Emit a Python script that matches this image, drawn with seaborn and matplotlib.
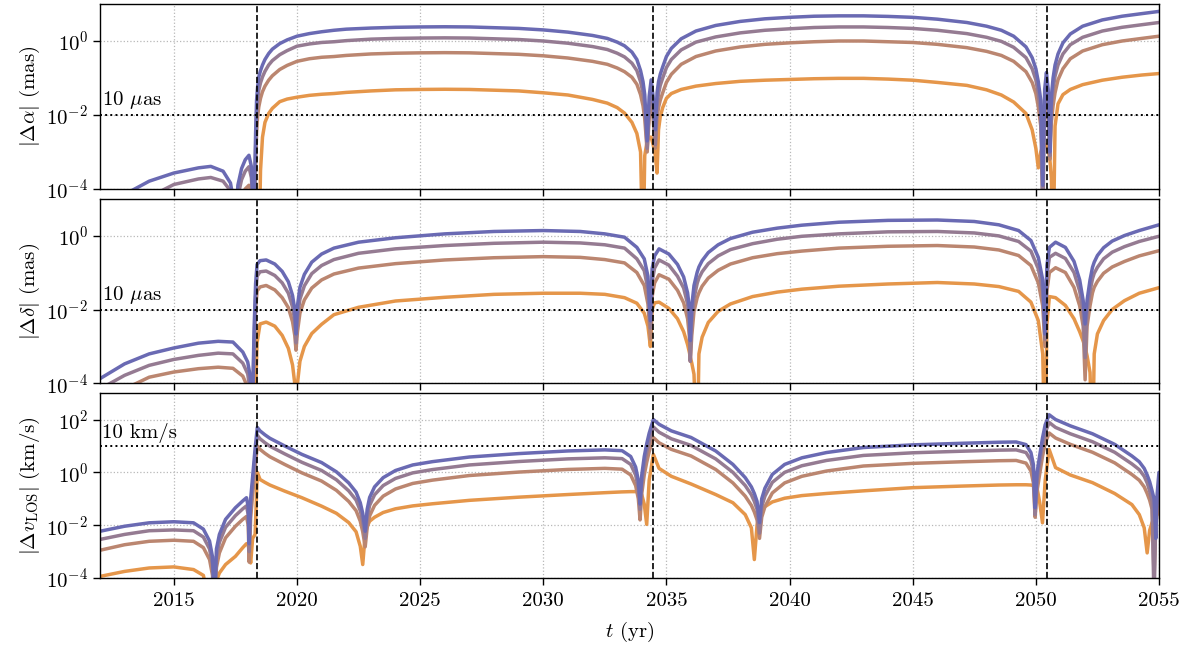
import matplotlib
matplotlib.use("Agg")
import matplotlib.pyplot as plt
import matplotlib.ticker as mticker
import seaborn as sns
import numpy as np
import pandas as pd

# epochs of the three events (dashed lines)
t_events = [2018.36, 2034.44, 2050.46]
series = ["s1", "s2", "s3", "s4"]
colors = ["#6a6ab3", "#957b92", "#bb8670", "#e5964a"]

# all curve values are log10 readings off the log axes (-6 / -5 = below the frame)

# ---- |Delta alpha| (mas) ----
t_a = [2012, 2013, 2014, 2015, 2016, 2016.5, 2017, 2017.3, 2017.42, 2017.5,
       2017.6, 2017.75, 2017.9, 2018.05, 2018.15, 2018.25, 2018.32, 2018.36, 2018.4, 2018.45,
       2018.52, 2018.6, 2018.7, 2018.85, 2019.0, 2019.3, 2019.6, 2020, 2020.5, 2021,
       2021.5, 2022, 2023, 2024, 2025, 2026, 2027, 2028, 2029, 2030,
       2031, 2032, 2032.6, 2033, 2033.3, 2033.6, 2033.8, 2033.95, 2034.05, 2034.12,
       2034.22, 2034.3, 2034.38, 2034.46, 2034.55, 2034.62, 2034.68, 2034.75, 2034.85, 2035,
       2035.2, 2035.6, 2036.2, 2037, 2038, 2039, 2040, 2041, 2042, 2043,
       2044, 2045, 2046, 2047.2, 2048, 2048.6, 2049.1, 2049.6, 2049.85, 2050.0,
       2050.1, 2050.2, 2050.28, 2050.36, 2050.43, 2050.5, 2050.57, 2050.63, 2050.7, 2050.78,
       2050.9, 2051.1, 2051.4, 2051.9, 2052.7, 2053.5, 2054.3, 2055]
a1 = [-4.5, -4.15, -3.79, -3.57, -3.43, -3.39, -3.52, -3.84, -4.3, -5,
      -3.9, -3.45, -3.21, -3.09, -3.4, -5, -2.5, -1.6, -1.25, -0.97,
      -0.8, -0.65, -0.5, -0.34, -0.22, -0.07, 0.03, 0.13, 0.2, 0.25,
      0.29, 0.32, 0.35, 0.37, 0.38, 0.385, 0.38, 0.36, 0.34, 0.30,
      0.24, 0.15, 0.07, -0.03, -0.13, -0.30, -0.5, -0.8, -1.1, -1.45,
      -2.7, -1.5, -1.05, -1.5, -2.4, -1.4, -1.1, -0.9, -0.7, -0.42,
      -0.2, 0.06, 0.27, 0.42, 0.53, 0.60, 0.64, 0.67, 0.68, 0.68,
      0.665, 0.64, 0.59, 0.50, 0.40, 0.29, 0.13, -0.16, -0.45, -0.75,
      -1.1, -1.6, -3.9, -1.3, -0.85, -1.3, -3.0, -1.5, -1.0, -0.65,
      -0.35, -0.05, 0.19, 0.40, 0.57, 0.67, 0.74, 0.80]
a2 = [-5, -4.7, -4.22, -3.88, -3.73, -3.69, -3.79, -4.05, -4.5, -5,
      -4.2, -3.75, -3.52, -3.4, -3.7, -5, -2.9, -1.96, -1.6, -1.33,
      -1.13, -0.97, -0.82, -0.65, -0.53, -0.37, -0.26, -0.14, -0.08, -0.04,
      -0.02, 0.01, 0.05, 0.07, 0.08, 0.085, 0.08, 0.06, 0.04, 0.0,
      -0.06, -0.15, -0.23, -0.33, -0.43, -0.6, -0.8, -1.1, -1.4, -1.75,
      -2.9, -1.8, -1.32, -1.8, -2.8, -1.75, -1.42, -1.2, -1.0, -0.72,
      -0.5, -0.24, -0.03, 0.11, 0.22, 0.29, 0.33, 0.365, 0.38, 0.38,
      0.365, 0.34, 0.29, 0.20, 0.10, -0.01, -0.17, -0.45, -0.75, -1.05,
      -1.42, -1.95, -5, -1.6, -1.1, -1.6, -3.1, -1.8, -1.3, -0.95,
      -0.65, -0.35, -0.1, 0.1, 0.27, 0.37, 0.44, 0.50]
a3 = [-5, -5, -4.7, -4.4, -4.22, -4.15, -4.22, -4.5, -4.8, -5,
      -4.6, -4.2, -4.0, -3.9, -4.1, -5, -3.4, -2.49, -2.05, -1.78,
      -1.55, -1.37, -1.22, -1.06, -0.94, -0.77, -0.66, -0.55, -0.48, -0.44,
      -0.42, -0.39, -0.35, -0.33, -0.32, -0.315, -0.32, -0.34, -0.36, -0.40,
      -0.46, -0.55, -0.63, -0.73, -0.83, -0.98, -1.17, -1.45, -1.75, -2.1,
      -3.0, -2.1, -1.6, -2.1, -2.9, -2.1, -1.8, -1.6, -1.4, -1.12,
      -0.9, -0.63, -0.42, -0.27, -0.16, -0.09, -0.05, -0.02, 0.0, 0.0,
      -0.02, -0.04, -0.09, -0.18, -0.28, -0.39, -0.55, -0.83, -1.12, -1.42,
      -1.78, -2.3, -3.3, -2.0, -1.5, -2.0, -3.2, -2.2, -1.75, -1.4,
      -1.05, -0.75, -0.48, -0.27, -0.1, 0.0, 0.07, 0.13]
a4 = [-6, -6, -6, -6, -6, -6, -6, -6, -6, -6,
      -6, -6, -6, -6, -6, -6, -6, -6, -6, -6,
      -3.5, -2.6, -2.2, -1.96, -1.82, -1.64, -1.57, -1.52, -1.47, -1.44,
      -1.42, -1.39, -1.35, -1.32, -1.31, -1.305, -1.31, -1.33, -1.35, -1.40,
      -1.46, -1.58, -1.68, -1.8, -1.95, -2.2, -2.5, -3.0, -6, -3.1,
      -2.7, -2.6, -2.6, -2.8, -3.1, -3.57, -2.4, -2.05, -1.8, -1.55,
      -1.42, -1.31, -1.22, -1.15, -1.09, -1.06, -1.04, -1.02, -1.01, -1.01,
      -1.03, -1.06, -1.12, -1.2, -1.32, -1.46, -1.65, -1.96, -2.4, -2.9,
      -3.43, -3.0, -2.85, -2.8, -2.8, -2.95, -3.2, -3.7, -6, -2.3,
      -1.7, -1.45, -1.31, -1.18, -1.06, -0.98, -0.92, -0.88]

# ---- |Delta delta| (mas) ----
t_d = [2012, 2013, 2014, 2015, 2016, 2016.8, 2017.4, 2017.8, 2018.0, 2018.1,
       2018.18, 2018.26, 2018.32, 2018.38, 2018.5, 2018.75, 2019.1, 2019.4, 2019.65, 2019.82,
       2019.91, 2019.96, 2020.02, 2020.12, 2020.3, 2020.6, 2021, 2021.5, 2022.5, 2024,
       2026, 2028, 2030, 2031.5, 2032.5, 2033.3, 2033.8, 2034.1, 2034.25, 2034.35,
       2034.42, 2034.52, 2034.7, 2035.1, 2035.45, 2035.7, 2035.86, 2035.93, 2035.97, 2036.03,
       2036.12, 2036.25, 2036.32, 2036.45, 2036.7, 2037.1, 2037.6, 2038.5, 2039.5, 2040.5,
       2042, 2044, 2046, 2047.5, 2048.5, 2049.3, 2049.8, 2050.1, 2050.28, 2050.37,
       2050.45, 2050.55, 2050.8, 2051.2, 2051.55, 2051.78, 2051.92, 2052.0, 2052.08, 2052.2,
       2052.3, 2052.37, 2052.5, 2052.75, 2053.1, 2053.6, 2054.2, 2055]
d1 = [-3.87, -3.47, -3.20, -3.04, -2.91, -2.86, -2.88, -3.15, -3.42, -3.8,
      -5, -2.5, -1.3, -0.78, -0.68, -0.66, -0.77, -0.97, -1.25, -1.62,
      -2.0, -2.66, -1.9, -1.4, -1.05, -0.72, -0.50, -0.34, -0.18, -0.06,
      0.045, 0.11, 0.135, 0.11, 0.045, -0.045, -0.32, -0.63, -1.1, -2.3,
      -0.9, -0.55, -0.36, -0.5, -0.78, -1.12, -1.55, -1.95, -2.84, -1.9,
      -1.35, -0.99, -0.85, -0.68, -0.46, -0.25, -0.08, 0.09, 0.2, 0.28,
      0.36, 0.41, 0.42, 0.38, 0.29, 0.135, -0.135, -0.59, -1.2, -2.66,
      -0.8, -0.32, -0.18, -0.32, -0.7, -1.2, -1.75, -2.39, -1.75, -1.2,
      -0.86, -0.72, -0.54, -0.33, -0.15, 0.0, 0.135, 0.29]
d2 = [-4.15, -3.78, -3.51, -3.35, -3.24, -3.18, -3.20, -3.45, -3.74, -4.2,
      -5, -2.9, -1.65, -1.1, -0.98, -0.96, -1.08, -1.28, -1.56, -1.93,
      -2.3, -2.9, -2.2, -1.72, -1.36, -1.03, -0.81, -0.65, -0.48, -0.36,
      -0.27, -0.21, -0.18, -0.2, -0.25, -0.34, -0.63, -0.95, -1.45, -2.5,
      -1.25, -0.88, -0.66, -0.8, -1.1, -1.42, -1.85, -2.3, -3.4, -2.3,
      -1.7, -1.29, -1.15, -0.98, -0.76, -0.55, -0.38, -0.22, -0.1, -0.02,
      0.045, 0.10, 0.11, 0.07, -0.01, -0.16, -0.42, -0.9, -1.5, -2.8,
      -1.1, -0.59, -0.48, -0.62, -1.0, -1.5, -2.05, -3.3, -2.05, -1.5,
      -1.17, -1.02, -0.86, -0.63, -0.45, -0.3, -0.16, -0.02]
d3 = [-4.5, -4.15, -3.83, -3.69, -3.60, -3.56, -3.59, -3.8, -4.1, -4.5,
      -5, -3.3, -2.0, -1.5, -1.39, -1.35, -1.47, -1.68, -1.95, -2.33,
      -2.7, -3.1, -2.6, -2.1, -1.74, -1.42, -1.2, -1.04, -0.88, -0.76,
      -0.66, -0.60, -0.57, -0.59, -0.65, -0.74, -1.0, -1.35, -1.85, -2.8,
      -1.65, -1.28, -1.06, -1.18, -1.48, -1.82, -2.25, -2.7, -3.4, -2.7,
      -2.05, -1.68, -1.55, -1.37, -1.15, -0.94, -0.77, -0.6, -0.49, -0.42,
      -0.34, -0.29, -0.27, -0.31, -0.39, -0.54, -0.81, -1.28, -1.9, -3.0,
      -1.5, -1.0, -0.87, -1.0, -1.4, -1.9, -2.45, -3.9, -2.45, -1.9,
      -1.55, -1.4, -1.24, -1.02, -0.85, -0.7, -0.55, -0.41]
d4 = [-6, -6, -6, -6, -6, -6, -6, -6, -6, -6,
      -6, -6, -4.2, -2.9, -2.39, -2.34, -2.45, -2.7, -3.05, -3.5,
      -4.0, -6, -4.0, -3.4, -3.0, -2.65, -2.4, -2.14, -1.94, -1.77,
      -1.67, -1.59, -1.56, -1.56, -1.59, -1.68, -1.83, -2.1, -2.45, -3.0,
      -2.0, -1.82, -1.8, -1.97, -2.25, -2.6, -2.95, -3.15, -3.29, -3.45,
      -3.75, -6, -3.2, -2.75, -2.35, -2.05, -1.85, -1.65, -1.53, -1.45,
      -1.37, -1.31, -1.27, -1.31, -1.38, -1.51, -1.80, -2.3, -3.2, -6,
      -2.4, -1.65, -1.68, -1.89, -2.25, -2.6, -2.85, -3.02, -3.25, -3.7,
      -6, -3.2, -2.66, -2.3, -2.0, -1.76, -1.56, -1.41]

# ---- |Delta v_LOS| (km/s) ----
t_v = [2012, 2013, 2014, 2015, 2015.8, 2016.2, 2016.45, 2016.57, 2016.65, 2016.73,
       2016.85, 2017.1, 2017.5, 2017.8, 2017.95, 2018.02, 2018.06, 2018.12, 2018.2, 2018.3,
       2018.39, 2018.5, 2018.7, 2018.9, 2019.5, 2020.2, 2021, 2021.6, 2022.1, 2022.4,
       2022.57, 2022.67, 2022.77, 2022.85, 2022.95, 2023.15, 2023.5, 2024, 2024.7, 2025.5,
       2027, 2029, 2031, 2032.5, 2033.2, 2033.55, 2033.75, 2033.86, 2033.93, 2034.0,
       2034.1, 2034.2, 2034.3, 2034.47, 2034.7, 2035.2, 2036, 2037, 2037.7, 2038.2,
       2038.45, 2038.57, 2038.68, 2038.78, 2038.87, 2039.0, 2039.3, 2039.8, 2040.5, 2041.5,
       2043, 2045, 2047, 2048.5, 2049.2, 2049.6, 2049.8, 2049.9, 2049.97, 2050.05,
       2050.15, 2050.27, 2050.38, 2050.54, 2050.8, 2051.4, 2052.3, 2053.2, 2053.9, 2054.2,
       2054.4, 2054.52, 2054.62, 2054.72, 2054.8, 2054.87, 2054.92, 2054.97, 2055]
v1 = [-2.23, -2.04, -1.91, -1.87, -1.91, -2.15, -2.6, -3.2, -5, -2.9,
      -2.35, -1.78, -1.34, -1.08, -0.96, -1.3, -2.7, -1.0, -0.16, 0.9,
      1.70, 1.57, 1.42, 1.29, 1.0, 0.68, 0.37, 0.02, -0.4, -0.75,
      -1.15, -1.55, -2.23, -1.4, -0.95, -0.55, -0.2, 0.07, 0.28, 0.405,
      0.58, 0.71, 0.81, 0.85, 0.82, 0.6, 0.2, -0.3, -1.2, -0.1,
      0.6, 1.08, 1.48, 2.0, 1.82, 1.57, 1.32, 0.81, 0.3, -0.2,
      -0.55, -0.8, -1.1, -1.9, -1.0, -0.6, -0.08, 0.3, 0.55, 0.75,
      0.94, 1.04, 1.10, 1.14, 1.15, 1.05, 0.75, 0.3, -1.34, 0.0,
      0.6, 1.3, 1.8, 2.18, 2.0, 1.76, 1.46, 1.06, 0.62, 0.4,
      0.15, -0.1, -0.35, -0.7, -1.0, -2.5, -0.9, -0.3, 0.0]
v2 = [-2.54, -2.35, -2.21, -2.18, -2.21, -2.45, -2.9, -3.5, -5, -3.2,
      -2.65, -2.08, -1.64, -1.38, -1.27, -1.6, -3.0, -1.3, -0.46, 0.6,
      1.40, 1.27, 1.12, 0.99, 0.7, 0.38, 0.07, -0.28, -0.7, -1.05,
      -1.45, -1.85, -2.5, -1.7, -1.25, -0.85, -0.5, -0.23, -0.02, 0.105,
      0.28, 0.41, 0.51, 0.55, 0.52, 0.3, -0.1, -0.6, -1.4, -0.4,
      0.3, 0.78, 1.18, 1.72, 1.52, 1.27, 1.02, 0.51, 0.0, -0.5,
      -0.85, -1.1, -1.4, -2.3, -1.3, -0.9, -0.38, 0.0, 0.25, 0.45,
      0.64, 0.74, 0.80, 0.84, 0.85, 0.75, 0.45, 0.0, -1.6, -0.3,
      0.3, 1.0, 1.5, 1.89, 1.7, 1.46, 1.16, 0.76, 0.32, 0.1,
      -0.15, -0.4, -0.7, -1.1, -5, -1.6, -1.2, -0.9, -0.7]
v3 = [-2.95, -2.74, -2.61, -2.57, -2.61, -2.85, -3.3, -3.9, -5, -3.6,
      -3.05, -2.48, -2.04, -1.78, -1.67, -2.0, -3.4, -1.7, -0.86, 0.2,
      1.0, 0.87, 0.72, 0.59, 0.3, -0.02, -0.33, -0.68, -1.1, -1.45,
      -1.85, -2.25, -2.82, -2.1, -1.65, -1.25, -0.9, -0.63, -0.42, -0.295,
      -0.12, 0.01, 0.11, 0.15, 0.12, -0.1, -0.5, -1.0, -1.8, -0.8,
      -0.1, 0.38, 0.78, 1.32, 1.12, 0.87, 0.62, 0.11, -0.4, -0.9,
      -1.25, -1.5, -1.8, -2.5, -1.7, -1.3, -0.78, -0.4, -0.15, 0.05,
      0.24, 0.34, 0.40, 0.44, 0.45, 0.35, 0.05, -0.4, -1.7, -0.7,
      -0.1, 0.6, 1.1, 1.49, 1.3, 1.06, 0.76, 0.36, -0.08, -0.3,
      -0.55, -0.8, -1.05, -1.4, -4.0, -2.0, -1.6, -1.3, -1.1]
v4 = [-3.94, -3.75, -3.62, -3.58, -3.68, -3.9, -5, -5, -4.5, -4.1,
      -3.81, -3.49, -3.18, -2.85, -2.7, -2.75, -3.0, -3.43, -2.5, -2.35,
      0.0, -0.27, -0.38, -0.48, -0.71, -0.96, -1.28, -1.55, -1.9, -2.25,
      -2.8, -3.49, -2.35, -2.05, -1.85, -1.7, -1.52, -1.38, -1.27, -1.19,
      -1.06, -0.94, -0.84, -0.77, -0.74, -0.73, -0.73, -0.74, -0.76, -0.85,
      -1.2, -1.97, -0.3, 0.68, 0.15, -0.15, -0.44, -0.84, -1.15, -1.6,
      -2.1, -3.3, -2.0, -1.6, -1.45, -1.3, -1.12, -0.98, -0.88, -0.8,
      -0.7, -0.58, -0.52, -0.48, -0.47, -0.47, -0.48, -0.5, -0.52, -0.6,
      -1.1, -1.91, -0.3, 0.87, 0.18, -0.1, -0.39, -0.8, -1.22, -1.6,
      -2.1, -3.05, -2.2, -1.9, -1.75, -1.65, -1.6, -1.55, -1.5]

panels = [
    (t_a, [a1, a2, a3, a4], r"$|\Delta\alpha|$ (mas)", (1e-4, 10), [1e-4, 1e-2, 1e0], 1e-2, r"10 $\mu$as"),
    (t_d, [d1, d2, d3, d4], r"$|\Delta\delta|$ (mas)", (1e-4, 10), [1e-4, 1e-2, 1e0], 1e-2, r"10 $\mu$as"),
    (t_v, [v1, v2, v3, v4], r"$|\Delta v_{\rm LOS}|$ (km/s)", (1e-4, 1e3), [1e-4, 1e-2, 1e0, 1e2], 10, "10 km/s"),
]

sns.set_theme(style="ticks")
plt.rcParams.update({
    "font.family": "serif",
    "font.serif": ["cmr10"],
    "mathtext.fontset": "cm",
    "axes.formatter.use_mathtext": True,
    "axes.unicode_minus": False,
    "font.size": 15,
    "text.color": "black",
    "axes.labelcolor": "black",
    "axes.edgecolor": "black",
    "axes.linewidth": 1.0,
    "xtick.color": "black",
    "ytick.color": "black",
    "xtick.direction": "out",
    "ytick.direction": "out",
})

fig, axes = plt.subplots(3, 1, figsize=(11.87, 6.48), dpi=100, sharex=True)
fig.subplots_adjust(left=0.0842, right=0.9764, top=0.9938, bottom=0.108, hspace=0.052)

palette = dict(zip(series, colors))
for ax, (t, ys, ylab, ylim, yt, ref, reftxt) in zip(axes, panels):
    df = pd.DataFrame({"t": t})
    for name, y in zip(series, ys):
        df[name] = 10.0 ** np.asarray(y, dtype=float)
    df = df.melt(id_vars="t", var_name="series", value_name="val")
    sns.lineplot(data=df, x="t", y="val", hue="series", hue_order=series[::-1],
                 palette=palette, legend=False, errorbar=None, lw=2.5, ax=ax)
    ax.set_yscale("log")
    ax.set_ylim(*ylim)
    ax.set_xlim(2012, 2055)
    ax.yaxis.set_major_locator(mticker.FixedLocator(yt))
    ax.yaxis.set_minor_locator(mticker.NullLocator())
    ax.yaxis.set_major_formatter(mticker.LogFormatterSciNotation())
    ax.xaxis.set_major_locator(mticker.FixedLocator(range(2015, 2056, 5)))
    ax.grid(True, ls=":", color="0.72", lw=0.9)
    ax.set_axisbelow(True)
    for te in t_events:
        ax.axvline(te, color="black", ls="--", lw=1.2, zorder=5)
    ax.axhline(ref, color="black", ls=":", lw=1.4, zorder=5)
    ax.text(2012.1, ref * 1.25, reftxt, fontsize=15, va="bottom", ha="left")
    ax.set_ylabel(ylab, fontsize=15, labelpad=3)
    ax.set_xlabel("")
    ax.tick_params(axis="both", labelsize=15, length=5, width=1)
    ax.tick_params(axis="x", pad=5)

axes[-1].set_xticklabels([str(v) for v in range(2015, 2056, 5)])
axes[-1].set_xlabel(r"$t$ (yr)", fontsize=15, labelpad=7)
fig.align_ylabels(axes)

fig.savefig("out.png", dpi=100)
